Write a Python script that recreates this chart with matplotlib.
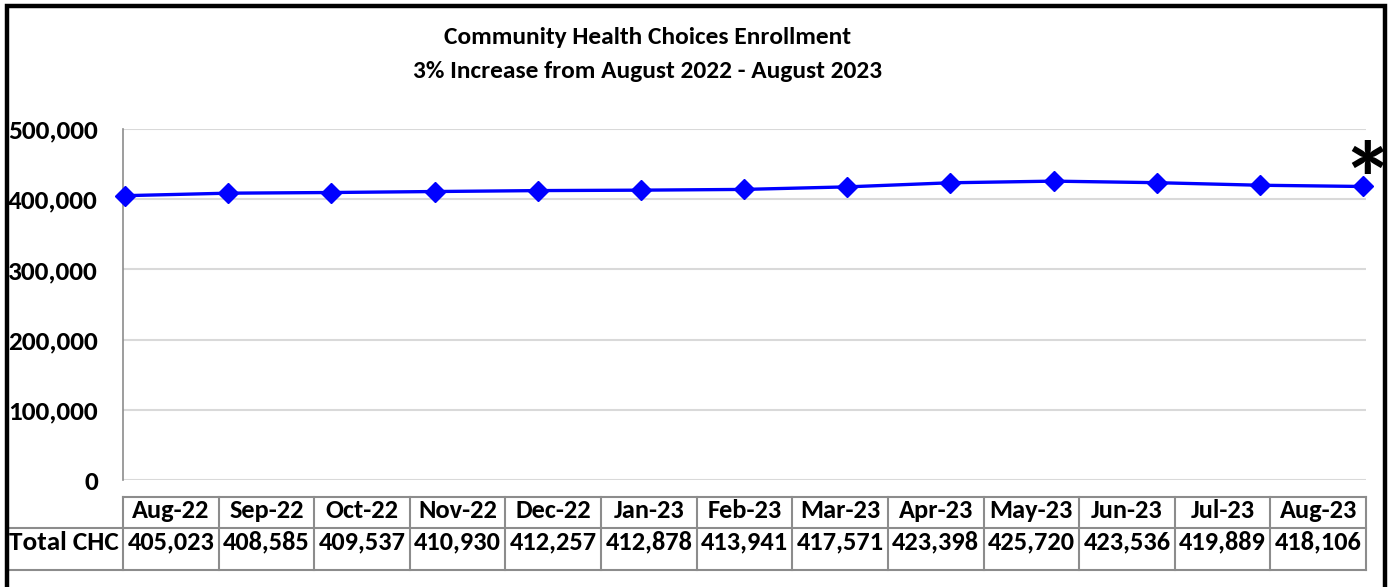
import matplotlib
matplotlib.use("Agg")
import matplotlib.pyplot as plt
from matplotlib.ticker import FuncFormatter
from matplotlib import font_manager as fm

months = ["Aug-22", "Sep-22", "Oct-22", "Nov-22", "Dec-22", "Jan-23", "Feb-23",
          "Mar-23", "Apr-23", "May-23", "Jun-23", "Jul-23", "Aug-23"]
enrollment = [405023, 408585, 409537, 410930, 412257, 412878, 413941,
              417571, 423398, 425720, 423536, 419889, 418106]
row_label = "Total CHC"
title_lines = ["Community Health Choices Enrollment",
               "3% Increase from August 2022 - August 2023"]
yticks = [0, 100000, 200000, 300000, 400000, 500000]

available = {f.name for f in fm.fontManager.ttflist}
FONT = "Carlito" if "Carlito" in available else "Lato"
plt.rcParams['font.family'] = FONT
scale = 1.0 if FONT == "Carlito" else 0.93

W, H = 1390, 587
fig = plt.figure(figsize=(W / 100, H / 100), dpi=100)

# plot area in pixels
L, R, T, B = 123, 1366, 129, 480
ax = fig.add_axes([L / W, (H - B) / H, (R - L) / W, (B - T) / H])
x = list(range(len(months)))
ax.plot(x, enrollment, color="#0000FF", lw=2.4, marker="D", ms=10.5,
        markeredgecolor="#0000FF", markerfacecolor="#0000FF", zorder=3, clip_on=False)
step = (1363 - 125) / 12
ax.set_xlim(-(125 - L) / step, (R - 125) / step)
ax.set_ylim(0, 500000)
ax.set_yticks(yticks)
ax.yaxis.set_major_formatter(FuncFormatter(lambda v, p: f"{int(v):,}"))
ax.tick_params(axis="y", length=0, pad=18)
for lab in ax.get_yticklabels():
    lab.set_fontweight("bold")
    lab.set_fontsize(19.6 * scale)
ax.set_xticks([])
ax.grid(axis="y", color="#d9d9d9", lw=1.5)
for s in ["top", "right", "bottom"]:
    ax.spines[s].set_visible(False)
ax.spines["left"].set_color("#8c8c8c")
ax.spines["left"].set_linewidth(1.2)
ax.set_axisbelow(True)
ax.annotate("*", xy=(x[-1], enrollment[-1]), xytext=(3, 1), textcoords="offset points",
            ha="center", va="center", fontsize=75, fontweight="bold", color="black",
            annotation_clip=False)

# overlay in pixel coordinates for title, table, border
ov = fig.add_axes([0, 0, 1, 1], zorder=-1)
ov.set_xlim(0, W)
ov.set_ylim(H, 0)
ov.axis("off")

ov.text(648, 43.5, title_lines[0], ha="center", va="baseline", fontsize=18.3 * scale, fontweight="bold")
ov.text(648, 78, title_lines[1], ha="center", va="baseline", fontsize=18.3 * scale, fontweight="bold")

# data table
n = len(months)
cw = (R - L) / n
ytop, ymid, ybot = 497, 528, 570
gc = "#8c8c8c"
ov.plot([L, R], [ytop, ytop], color=gc, lw=1.5)
ov.plot([8, R], [ymid, ymid], color=gc, lw=1.5)
ov.plot([8, R], [ybot, ybot], color=gc, lw=1.5)
for i in range(n + 1):
    xe = L + i * cw
    ov.plot([xe, xe], [ytop, ybot], color=gc, lw=1.5)
tfs = 19 * scale
for i, (m, v) in enumerate(zip(months, enrollment)):
    xc = L + (i + 0.5) * cw
    ov.text(xc, 518, m, ha="center", va="baseline", fontsize=tfs, fontweight="bold")
    ov.text(xc, 549.5, f"{v:,}", ha="center", va="baseline", fontsize=tfs, fontweight="bold")
ov.text(64, 549.5, row_label, ha="center", va="baseline", fontsize=19.6 * scale, fontweight="bold")

# chart border
ov.plot([6.5, 6.5, 1384.5, 1384.5], [H + 5, 5.5, 5.5, H + 5], color="black", lw=3.2,
        solid_joinstyle="miter", clip_on=False)

fig.savefig("out.png", dpi=100)
